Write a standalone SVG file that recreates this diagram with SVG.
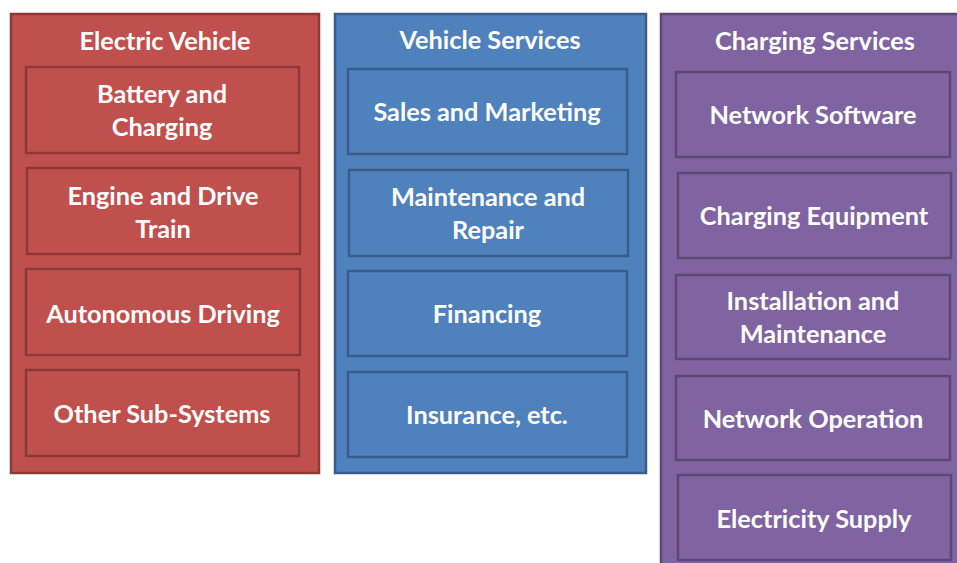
<svg xmlns="http://www.w3.org/2000/svg" width="957" height="563" viewBox="0 0 957 563">
<style>
text{font-family:Lato,"Liberation Sans",sans-serif;font-weight:bold;font-size:25.3px;fill:#ffffff;text-anchor:middle}
.r{fill:#C0504D;stroke:#8C3836;stroke-width:2.5}
.b{fill:#4F81BD;stroke:#385D8A;stroke-width:2.5}
.p{fill:#8064A2;stroke:#5C4776;stroke-width:2.5}
</style>
<rect width="957" height="563" fill="#ffffff"/>
<g id="electric-vehicle">
<rect class="r" x="11" y="14" width="308" height="459"/>
<text x="165" y="50">Electric Vehicle</text>
<g id="battery"><rect class="r" x="26" y="67" width="273" height="86"/><text x="162" y="103">Battery and</text><text x="162" y="136">Charging</text></g>
<g id="engine"><rect class="r" x="27" y="168" width="273" height="86"/><text x="163" y="205">Engine and Drive</text><text x="163" y="238">Train</text></g>
<g id="autonomous"><rect class="r" x="26" y="269" width="274" height="86"/><text x="163" y="323">Autonomous Driving</text></g>
<g id="other"><rect class="r" x="26" y="370" width="273" height="86"/><text x="162" y="423">Other Sub-Systems</text></g>
</g>
<g id="vehicle-services">
<rect class="b" x="335" y="14" width="311" height="459"/>
<text x="490" y="49">Vehicle Services</text>
<g id="sales"><rect class="b" x="348" y="69" width="279" height="85"/><text x="487" y="121">Sales and Marketing</text></g>
<g id="maintenance"><rect class="b" x="349" y="170" width="279" height="86"/><text x="488" y="206">Maintenance and</text><text x="488" y="239">Repair</text></g>
<g id="financing"><rect class="b" x="348" y="271" width="279" height="85"/><text x="487" y="323">Financing</text></g>
<g id="insurance"><rect class="b" x="348" y="372" width="279" height="85"/><text x="487" y="424">Insurance, etc.</text></g>
</g>
<g id="charging-services">
<rect class="p" x="661" y="14" width="300" height="560"/>
<text x="815" y="50">Charging Services</text>
<g id="network-software"><rect class="p" x="676" y="72" width="274" height="85"/><text x="813" y="124">Network Software</text></g>
<g id="charging-equipment"><rect class="p" x="678" y="173" width="273" height="85"/><text x="814" y="225">Charging Equipment</text></g>
<g id="installation"><rect class="p" x="676" y="275" width="274" height="84"/><text x="813" y="310">Installation and</text><text x="813" y="343">Maintenance</text></g>
<g id="network-operation"><rect class="p" x="676" y="376" width="274" height="84"/><text x="813" y="428">Network Operation</text></g>
<g id="electricity"><rect class="p" x="678" y="475" width="273" height="85"/><text x="814" y="528">Electricity Supply</text></g>
</g>
<g id="connectors"/>
</svg>
